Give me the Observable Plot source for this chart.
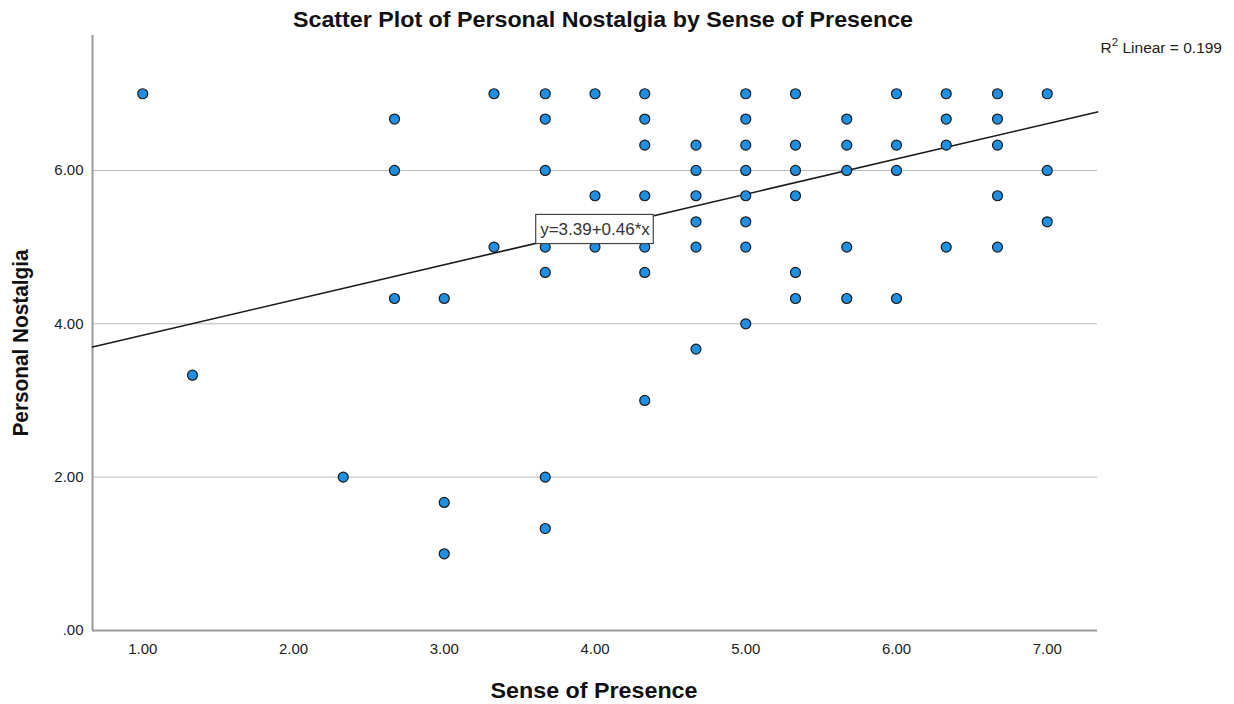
<!DOCTYPE html>
<html>
<head>
<meta charset="utf-8">
<script src="https://cdn.jsdelivr.net/npm/d3@7"></script>
<script src="https://cdn.jsdelivr.net/npm/@observablehq/plot@0.6"></script>
<style>
  html, body { margin: 0; padding: 0; background: #fff; }
  #chart { width: 1234px; height: 704px; }
</style>
</head>
<body>
<div id="chart"></div>
<script>
// Sense of Presence (x) and Personal Nostalgia (y) values
const presence = [
  1.00,
  1.33,
  2.33,
  2.67, 2.67, 2.67,
  3.00, 3.00, 3.00,
  3.33, 3.33,
  3.67, 3.67, 3.67, 3.67, 3.67, 3.67, 3.67,
  4.00, 4.00, 4.00,
  4.33, 4.33, 4.33, 4.33, 4.33, 4.33, 4.33,
  4.67, 4.67, 4.67, 4.67, 4.67, 4.67,
  5.00, 5.00, 5.00, 5.00, 5.00, 5.00, 5.00, 5.00,
  5.33, 5.33, 5.33, 5.33, 5.33, 5.33,
  5.67, 5.67, 5.67, 5.67, 5.67,
  6.00, 6.00, 6.00, 6.00,
  6.33, 6.33, 6.33, 6.33,
  6.67, 6.67, 6.67, 6.67, 6.67,
  7.00, 7.00, 7.00
];
const nostalgia = [
  7.00,
  3.33,
  2.00,
  6.67, 6.00, 4.33,
  4.33, 1.67, 1.00,
  7.00, 5.00,
  7.00, 6.67, 6.00, 5.00, 4.67, 2.00, 1.33,
  7.00, 5.67, 5.00,
  7.00, 6.67, 6.33, 5.67, 5.00, 4.67, 3.00,
  6.33, 6.00, 5.67, 5.33, 5.00, 3.67,
  7.00, 6.67, 6.33, 6.00, 5.67, 5.33, 5.00, 4.00,
  7.00, 6.33, 6.00, 5.67, 4.67, 4.33,
  6.67, 6.33, 6.00, 5.00, 4.33,
  7.00, 6.33, 6.00, 4.33,
  7.00, 6.67, 6.33, 5.00,
  7.00, 6.67, 6.33, 5.67, 5.00,
  7.00, 6.00, 5.33
];
const xTicks = [1, 2, 3, 4, 5, 6, 7];
const yTicks = [0, 2, 4, 6];
const fitIntercept = 3.39;
const fitSlope = 0.46;
const rSquared = 0.199;
const fitLabelX = 4.0;

const xDomain = [2 / 3, 22 / 3];
const yDomain = [0, 7.76];

const points = presence.map((x, i) => ({x, y: nostalgia[i]}));
const fit = x => fitIntercept + fitSlope * x;
const fitLine = xDomain.map(x => ({x, y: fit(x)}));
const labelText = `y=${fitIntercept.toFixed(2)}+${fitSlope.toFixed(2)}*x`;
const labelBox = [{
  x1: fitLabelX - 0.39, x2: fitLabelX + 0.39,
  y1: fit(fitLabelX) - 0.19, y2: fit(fitLabelX) + 0.19
}];

const fmtY = d => d === 0 ? ".00" : d.toFixed(2);

const plot = Plot.plot({
  width: 1234,
  height: 704,
  marginLeft: 92,
  marginRight: 137,
  marginTop: 35,
  marginBottom: 74,
  style: {fontFamily: "'Liberation Sans', Arial, sans-serif", fontSize: "15px", color: "#222", background: "#fff"},
  x: {domain: xDomain},
  y: {domain: yDomain},
  marks: [
    Plot.gridY(yTicks.filter(d => d > 0), {stroke: "#b8b8b8", strokeOpacity: 1, strokeWidth: 1}),
    Plot.ruleX([xDomain[0]], {stroke: "#9a9a9a", strokeWidth: 2}),
    Plot.ruleY([0], {stroke: "#9a9a9a", strokeWidth: 2}),
    Plot.axisX(xTicks, {tickSize: 0, tickPadding: 13, tickFormat: d => d.toFixed(2), label: null, fill: "#222", fontSize: 15}),
    Plot.axisY(yTicks, {tickSize: 0, tickPadding: 9, tickFormat: fmtY, label: null, fill: "#222", fontSize: 15}),
    Plot.line(fitLine, {x: "x", y: "y", stroke: "#1a1a1a", strokeWidth: 1.6}),
    Plot.dot(points, {x: "x", y: "y", r: 5, fill: "#1f8fe2", stroke: "#1a1a1a", strokeWidth: 1.2}),
    Plot.rect(labelBox, {x1: "x1", x2: "x2", y1: "y1", y2: "y2", fill: "#fff", stroke: "#444", strokeWidth: 1.2}),
    Plot.text([labelText], {x: fitLabelX, y: fit(fitLabelX), text: d => d, fontSize: 17, fill: "#333"})
  ]
});

const svg = d3.select(plot);
svg.append("text")
  .attr("x", 603).attr("y", 27)
  .attr("text-anchor", "middle")
  .attr("font-size", 22).attr("font-weight", "bold").attr("fill", "#111")
  .attr("textLength", 620).attr("lengthAdjust", "spacingAndGlyphs")
  .text("Scatter Plot of Personal Nostalgia by Sense of Presence");
svg.append("text")
  .attr("x", 594).attr("y", 698)
  .attr("text-anchor", "middle")
  .attr("font-size", 22).attr("font-weight", "bold").attr("fill", "#111")
  .attr("textLength", 207).attr("lengthAdjust", "spacingAndGlyphs")
  .text("Sense of Presence");
svg.append("text")
  .attr("transform", "translate(28,343) rotate(-90)")
  .attr("text-anchor", "middle")
  .attr("font-size", 22).attr("font-weight", "bold").attr("fill", "#111")
  .attr("textLength", 187).attr("lengthAdjust", "spacingAndGlyphs")
  .text("Personal Nostalgia");
const r2 = svg.append("text")
  .attr("x", 1222).attr("y", 53)
  .attr("text-anchor", "end")
  .attr("font-size", 15.5).attr("fill", "#222");
r2.append("tspan").text("R");
r2.append("tspan").attr("dy", -7).attr("font-size", 11.5).text("2");
r2.append("tspan").attr("dy", 7).text(` Linear = ${rSquared.toFixed(3)}`);

document.getElementById("chart").appendChild(plot);
</script>
</body>
</html>
